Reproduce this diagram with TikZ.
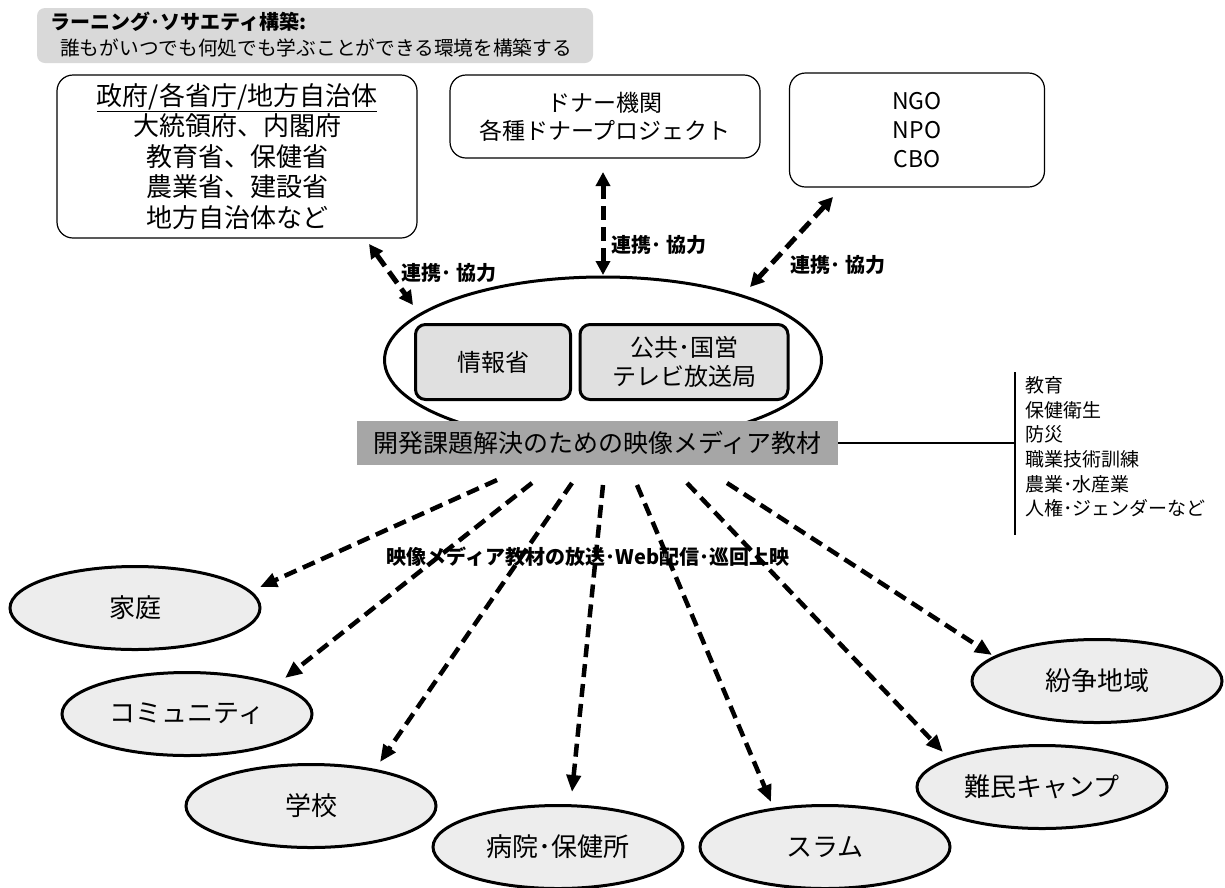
\documentclass[tikz,border=0pt]{standalone}
\usepackage{fontspec}
\setmainfont{Noto Sans CJK JP}
\usetikzlibrary{arrows.meta,shapes.geometric}
\newcommand\jfs[2]{\fontsize{#1}{#2}\selectfont}
\begin{document}
\begin{tikzpicture}[x=1pt,y=-1pt,
  topbox/.style={draw, line width=1.2pt, rounded corners=16pt, inner sep=0pt, align=center},
  inbox/.style={draw, line width=3pt, rounded corners=10pt, fill=black!12, inner sep=0pt, align=center, font=\jfs{24}{29}},
  oval/.style={ellipse, draw, line width=3pt, fill=black!7, inner sep=0pt, minimum width=250pt, minimum height=83pt, font=\jfs{26}{30}},
  link/.style={line width=5pt, dash pattern=on 14pt off 7pt, {Triangle[length=14pt,width=14pt]}-{Triangle[length=14pt,width=14pt]}},
  feed/.style={line width=4.5pt, dash pattern=on 13pt off 7pt, -{Triangle[length=17pt,width=14pt]}},
  lbl/.style={font=\bfseries\jfs{20}{22}, inner sep=0pt}]
\useasboundingbox (0,0) rectangle (1225,887);
\fill[white] (0,0) rectangle (1225,887);

% banner
\node[fill=black!15, rounded corners=8pt, minimum width=556pt, minimum height=55pt, inner sep=0pt] (banner) at (315,35.5) {};
\node[anchor=west, font=\bfseries\jfs{20}{24}, inner sep=0pt] (bt1) at (50,22) {ラーニング･ソサエティ構築:};
\node[anchor=west, font=\jfs{19.7}{24}, inner sep=0pt] (bt2) at (60,48) {誰もがいつでも何処でも学ぶことができる環境を構築する};

% top boxes
\node[topbox, minimum width=360pt, minimum height=163pt, font=\jfs{26}{30.5}] (gov) at (237,156.5)
  {\underline{政府/各省庁/地方自治体}\\大統領府、内閣府\\教育省、保健省\\農業省、建設省\\地方自治体など};
\node[topbox, minimum width=310pt, minimum height=83pt, font=\jfs{23}{28}] (donor) at (605,116.5)
  {ドナー機関\\各種ドナープロジェクト};
\node[topbox, minimum width=255pt, minimum height=114pt, font=\jfs{23}{29}] (ngo) at (917,130)
  {NGO\\NPO\\CBO};

% hub
\node[ellipse, draw, line width=3pt, minimum width=437pt, minimum height=166pt, inner sep=0pt] (hub) at (603,360) {};
\node[inbox, minimum width=155pt, minimum height=75pt] (moi) at (493,362) {情報省};
\node[inbox, minimum width=208pt, minimum height=75pt] (tv) at (684,362) {公共･国営\\テレビ放送局};
\node[fill=black!35, minimum width=481pt, minimum height=44pt, inner sep=0pt, font=\jfs{25}{28}] (bar) at (597.5,443) {開発課題解決のための映像メディア教材};

% topic list
\coordinate (vtop) at (1015,372);
\coordinate (vbot) at (1015,535);
\coordinate (vmid) at (1015,443);
\draw[line width=2pt] (bar.east) -- (vmid);
\draw[line width=2pt] (vtop) -- (vbot);
\node[anchor=west, align=left, font=\jfs{19}{24.6}, inner sep=0pt] (list) at (1025,447)
  {教育\\保健衛生\\防災\\職業技術訓練\\農業･水産業\\人権･ジェンダーなど};

% cooperation links
\coordinate (g1) at (369,244); \coordinate (g2) at (413,305);
\coordinate (d1) at (603,172); \coordinate (d2) at (603,275);
\coordinate (n1) at (833,197); \coordinate (n2) at (750,287);
\draw[link] (g1) -- (g2);
\draw[link] (d1) -- (d2);
\draw[link] (n1) -- (n2);
\node[lbl] (lg) at (449,273) {連携･ 協力};
\node[lbl] (ld) at (659,245) {連携･ 協力};
\node[lbl] (ln) at (838,265) {連携･ 協力};

% target ellipses
\node[oval] (kat) at (135,608) {家庭};
\node[oval] (com) at (187,714) {コミュニティ};
\node[oval] (sch) at (311,806) {学校};
\node[oval] (hos) at (558,847) {病院･保健所};
\node[oval] (slm) at (825,847) {スラム};
\node[oval] (ref) at (1042,787) {難民キャンプ};
\node[oval] (con) at (1097,681) {紛争地域};

% distribution arrows
\coordinate (t1) at (497,480); \coordinate (h1) at (260,587);
\coordinate (t2) at (532,483); \coordinate (h2) at (285,678);
\coordinate (t3) at (572,483); \coordinate (h3) at (380,762);
\coordinate (t4) at (603,485); \coordinate (h4) at (572,792);
\coordinate (t5) at (637,485); \coordinate (h5) at (771,802);
\coordinate (t6) at (687,483); \coordinate (h6) at (943,752);
\coordinate (t7) at (727,483); \coordinate (h7) at (992,655);
\foreach \i in {1,...,7} {\draw[feed] (t\i) -- (h\i);}
\node[font=\bfseries\jfs{20}{22}, inner sep=0pt] (dist) at (588,557) {映像メディア教材の放送･Web配信･巡回上映};
\end{tikzpicture}
\end{document}
